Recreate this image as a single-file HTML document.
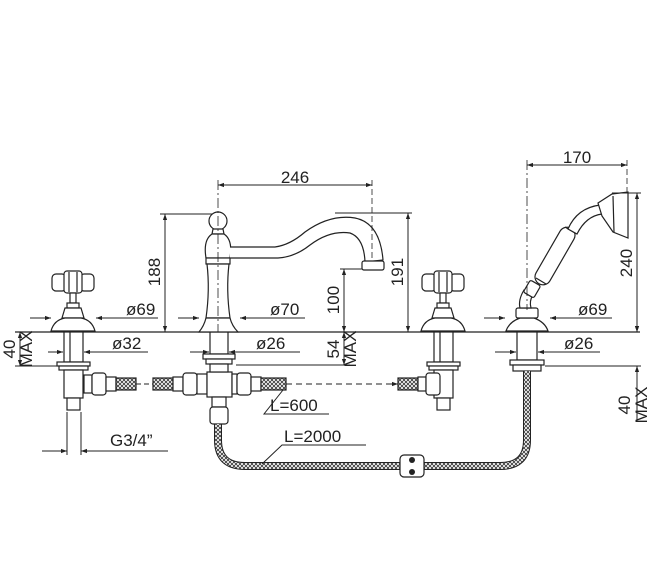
<!DOCTYPE html>
<html><head><meta charset="utf-8"><style>
html,body{margin:0;padding:0;background:#fff}
svg{display:block}
text{font-family:"Liberation Sans","DejaVu Sans",sans-serif;font-size:17px;fill:#222}
</style></head><body>
<svg width="653" height="576" viewBox="0 0 653 576" xmlns="http://www.w3.org/2000/svg">
<defs>
<pattern id="hatch" width="4" height="4" patternUnits="userSpaceOnUse">
<rect width="4" height="4" fill="#fff"/>
<path d="M0 4L4 0M0 0L4 4" stroke="#333" stroke-width="0.8"/>
</pattern>
<marker id="ar" viewBox="0 0 10 10" refX="10" refY="5" markerWidth="9" markerHeight="6" orient="auto-start-reverse" markerUnits="userSpaceOnUse">
<path d="M0 1.5L10 5L0 8.5Z" fill="#222"/>
</marker>
<g id="valve" stroke="#222" stroke-width="1.2" fill="#fff">
<rect x="-21" y="274" width="14" height="17" rx="4"/>
<rect x="7" y="274" width="14" height="17" rx="4"/>
<rect x="-9" y="271" width="18" height="22" rx="3"/>
<line x1="-4" y1="272" x2="-4" y2="292"/><line x1="4" y1="272" x2="4" y2="292"/>
<rect x="-3" y="293" width="6" height="10"/>
<rect x="-6" y="303" width="12" height="5"/>
<path d="M-8 308L8 308L11 318L-11 318Z"/>
<path d="M-22 331Q-19 320 -8 318L8 318Q19 320 22 331Z"/>
<rect x="-9" y="332" width="19" height="30"/>
<line x1="-3" y1="332" x2="-3" y2="362"/>
<rect x="-16" y="362" width="33" height="4"/>
<rect x="-14" y="366" width="29" height="4"/>
<rect x="-9" y="370" width="19" height="28"/>
<rect x="-6" y="398" width="13" height="12"/>
</g>
</defs>
<g stroke="#222" stroke-width="1" fill="none">
<line x1="15" y1="332" x2="640" y2="332" stroke-width="1.3"/>
</g>
<use href="#valve" x="73"/>
<use href="#valve" x="443"/>
<g stroke="#222" stroke-width="1.2" fill="#fff">
<rect x="84" y="375" width="8" height="18"/>
<rect x="92" y="373" width="14" height="22" rx="3"/>
<rect x="106" y="377" width="10" height="14"/>
<rect x="116" y="378" width="20" height="12" fill="url(#hatch)"/>
<rect x="153" y="378" width="20" height="12" fill="url(#hatch)"/>
<rect x="173" y="377" width="10" height="14"/>
<rect x="183" y="373" width="14" height="22" rx="3"/>
<rect x="197" y="374" width="10" height="20"/>
<rect x="207" y="372" width="25" height="25"/>
<rect x="232" y="374" width="5" height="20"/>
<rect x="237" y="373" width="14" height="22" rx="3"/>
<rect x="251" y="377" width="10" height="14"/>
<rect x="261" y="378" width="25" height="12" fill="url(#hatch)"/>
<rect x="210" y="332" width="18" height="22"/>
<rect x="203" y="354" width="32" height="5"/>
<rect x="206" y="359" width="26" height="5"/>
<rect x="210" y="364" width="18" height="8"/>
<rect x="212" y="397" width="14" height="10"/>
<rect x="210" y="407" width="18" height="17" rx="3"/>
<rect x="398" y="378" width="20" height="12" fill="url(#hatch)"/>
<rect x="418" y="377" width="8" height="14"/>
<rect x="426" y="373" width="14" height="22" rx="3"/>
<rect x="517" y="332" width="20" height="28"/>
<rect x="510" y="360" width="34" height="5"/>
<rect x="513" y="365" width="28" height="6"/>
<circle cx="218" cy="221" r="9"/>
<path d="M213 229L223 229L224 234L212 234Z"/>
<path d="M206 258Q203 240 212 234L224 234Q233 240 230 258Z"/>
<rect x="206" y="258" width="24" height="6"/>
<path d="M207 264L229 264Q226 290 230 318L206 318Q210 290 207 264Z"/>
<path d="M199 332Q204 326 206 318L230 318Q232 326 238 332Z"/>
<path d="M230 247L275 247Q290 245 305 232Q330 214 355 218Q380 223 383 260L365 262Q364 238 350 233Q330 230 310 245Q295 257 278 258L230 258" fill="#fff"/>
<rect x="362" y="261" width="22" height="9" rx="2"/>
<!-- hand shower -->
<path d="M506 331Q509 322 520 318L534 318Q545 322 548 331Z"/>
<rect x="516" y="308" width="22" height="10" rx="2"/>
<path d="M520 308Q518 300 524 290L533 295Q529 301 531 308Z"/>
<rect x="-7" y="-6" width="14" height="12" rx="2" transform="translate(532 289) rotate(-60)"/>
<rect x="-32" y="-8" width="64" height="16" rx="8" transform="translate(555 256) rotate(-60)"/>
<line x1="536" y1="278" x2="546" y2="284" transform="rotate(0)"/>
<line x1="565" y1="227" x2="575" y2="233"/>
<path d="M568 229Q577 208 600 205L602 214Q586 216 577 234Z"/>
<path d="M598 203L612 194L628 192L628 238L613 232L602 216Z"/>
<line x1="613" y1="196" x2="614" y2="232"/>
</g>
<path d="M218 424L218 440Q218 466 245 466L500 466Q527 466 527 440L527 371" stroke="#222" stroke-width="8" fill="none"/>
<path d="M218 424L218 440Q218 466 245 466L500 466Q527 466 527 440L527 371" stroke="url(#hatch)" stroke-width="6" fill="none"/>
<rect x="400" y="455" width="24" height="22" rx="4" fill="#fff" stroke="#222" stroke-width="1.2"/>
<circle cx="412" cy="460" r="3" fill="#222"/><circle cx="412" cy="472" r="3" fill="#222"/>
<g stroke="#222" stroke-width="1" fill="none">
<line x1="136" y1="384" x2="153" y2="384" stroke-dasharray="5 3"/>
<line x1="286" y1="384" x2="398" y2="384" stroke-dasharray="6 4" marker-end="url(#ar)"/>
<line x1="218" y1="180" x2="218" y2="332" stroke-dasharray="10 3 2 3" stroke-width="0.8"/>
<line x1="372" y1="180" x2="372" y2="260" stroke-dasharray="6 3" stroke-width="0.8"/>
<line x1="527" y1="160" x2="527" y2="310" stroke-dasharray="10 3 2 3" stroke-width="0.8"/>
<line x1="627" y1="160" x2="627" y2="192" stroke-dasharray="6 3" stroke-width="0.8"/>
<line x1="218" y1="185" x2="372" y2="185" marker-start="url(#ar)" marker-end="url(#ar)"/>
<line x1="527" y1="165" x2="627" y2="165" marker-start="url(#ar)" marker-end="url(#ar)"/>
<line x1="160" y1="214" x2="212" y2="214"/>
<line x1="165" y1="214" x2="165" y2="332" marker-start="url(#ar)" marker-end="url(#ar)"/>
<line x1="335" y1="213" x2="412" y2="213"/>
<line x1="408" y1="213" x2="408" y2="332" marker-start="url(#ar)" marker-end="url(#ar)"/>
<line x1="340" y1="269" x2="362" y2="269"/>
<line x1="344" y1="269" x2="344" y2="332" marker-start="url(#ar)" marker-end="url(#ar)"/>
<line x1="236" y1="365" x2="350" y2="365"/>
<line x1="344" y1="332" x2="344" y2="365" marker-start="url(#ar)" marker-end="url(#ar)"/>
<line x1="15" y1="366" x2="57" y2="366"/>
<line x1="20" y1="332" x2="20" y2="366" marker-start="url(#ar)" marker-end="url(#ar)"/>
<line x1="612" y1="193" x2="641" y2="193"/>
<line x1="637" y1="193" x2="637" y2="332" marker-start="url(#ar)" marker-end="url(#ar)"/>
<line x1="545" y1="366" x2="641" y2="366"/>
<line x1="637" y1="310" x2="637" y2="332" marker-end="url(#ar)"/>
<line x1="637" y1="420" x2="637" y2="366" marker-end="url(#ar)"/>
<line x1="30" y1="318" x2="51" y2="318" marker-end="url(#ar)"/>
<line x1="158" y1="318" x2="96" y2="318" marker-end="url(#ar)"/>
<line x1="178" y1="318" x2="199" y2="318" marker-end="url(#ar)"/>
<line x1="305" y1="318" x2="240" y2="318" marker-end="url(#ar)"/>
<line x1="484" y1="318" x2="505" y2="318" marker-end="url(#ar)"/>
<line x1="612" y1="318" x2="550" y2="318" marker-end="url(#ar)"/>
<line x1="48" y1="352" x2="63" y2="352" marker-end="url(#ar)"/>
<line x1="148" y1="352" x2="84" y2="352" marker-end="url(#ar)"/>
<line x1="190" y1="352" x2="209" y2="352" marker-end="url(#ar)"/>
<line x1="300" y1="352" x2="229" y2="352" marker-end="url(#ar)"/>
<line x1="495" y1="352" x2="516" y2="352" marker-end="url(#ar)"/>
<line x1="600" y1="352" x2="538" y2="352" marker-end="url(#ar)"/>
<line x1="67" y1="412" x2="67" y2="455"/>
<line x1="81" y1="412" x2="81" y2="455"/>
<line x1="42" y1="451" x2="67" y2="451" marker-end="url(#ar)"/>
<line x1="168" y1="451" x2="81" y2="451" marker-end="url(#ar)"/>
<polyline points="283,390 264,414 329,414"/>
<polyline points="262,464 282,445 366,445"/>
</g>
<text x="295" y="183" text-anchor="middle">246</text>
<text x="577" y="163" text-anchor="middle">170</text>
<text transform="translate(160 272) rotate(-90)" text-anchor="middle">188</text>
<text transform="translate(403 272) rotate(-90)" text-anchor="middle">191</text>
<text transform="translate(339 300) rotate(-90)" text-anchor="middle">100</text>
<text transform="translate(339 349) rotate(-90)" text-anchor="middle">54</text>
<text transform="translate(356 349) rotate(-90)" text-anchor="middle">MAX</text>
<text transform="translate(15 349) rotate(-90)" text-anchor="middle">40</text>
<text transform="translate(32 349) rotate(-90)" text-anchor="middle">MAX</text>
<text transform="translate(632 263) rotate(-90)" text-anchor="middle">240</text>
<text transform="translate(630 405) rotate(-90)" text-anchor="middle">40</text>
<text transform="translate(647 405) rotate(-90)" text-anchor="middle">MAX</text>
<text x="126" y="315">ø69</text>
<text x="270" y="315">ø70</text>
<text x="578" y="315">ø69</text>
<text x="112" y="349">ø32</text>
<text x="256" y="349">ø26</text>
<text x="564" y="349">ø26</text>
<text x="110" y="446">G3/4”</text>
<text x="270" y="411">L=600</text>
<text x="284" y="442">L=2000</text>
</svg>
</body></html>
